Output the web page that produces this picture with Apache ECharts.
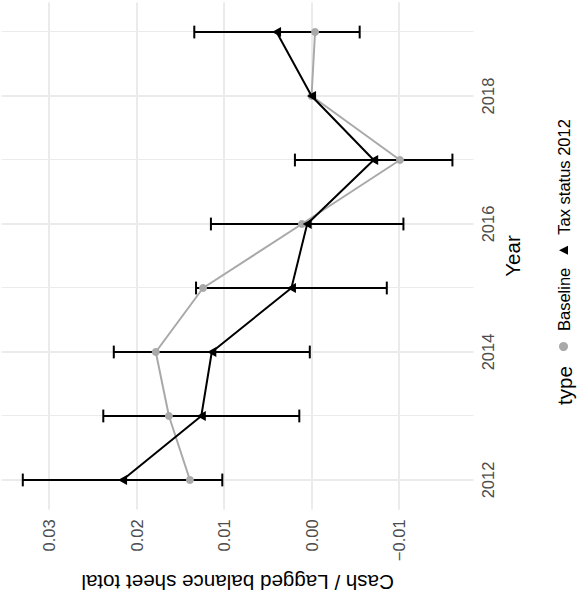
<!DOCTYPE html>
<html>
<head>
<meta charset="utf-8">
<script src="https://cdn.jsdelivr.net/npm/echarts@6/dist/echarts.min.js"></script>
<style>
  html, body { margin: 0; padding: 0; background: #ffffff; overflow: hidden; }
  body { width: 580px; height: 607px; position: relative; }
  /* The plot is laid out upright (607 x 580) and then turned a quarter turn
     counter-clockwise onto the page. */
  #chart {
    position: absolute; left: 0; top: 0;
    width: 607px; height: 580px;
    transform-origin: 0 0;
    transform: translateY(607px) rotate(-90deg);
  }
</style>
</head>
<body>
<div id="chart"></div>
<script>
// Cash / lagged balance sheet total by year, relative to 2018
const years = [2012, 2013, 2014, 2015, 2016, 2017, 2018, 2019];
const baseline = [0.0139, 0.0163, 0.0178, 0.0124, 0.0011, -0.0101, 0.0000, -0.0004];
const taxStatus = [0.0216, 0.0126, 0.0114, 0.0023, 0.0005, -0.0071, 0.0000, 0.0040];
// 95% confidence interval for the tax-status estimates (2018 is the reference year)
const ciLow  = [0.0102, 0.0014, 0.0002, -0.0086, -0.0105, -0.0161, null, -0.0055];
const ciHigh = [0.0330, 0.0238, 0.0226,  0.0132,  0.0115,  0.0019, null,  0.0134];

const yearTicks = [2012, 2014, 2016, 2018];
const yearMinor = [2013, 2015, 2017, 2019];
const valueTicks = [-0.01, 0.00, 0.01, 0.02, 0.03];
const valueMinor = [-0.015, -0.005, 0.005, 0.015, 0.025, 0.035];
const seriesNames = ['Baseline', 'Tax status 2012'];
const legendTitle = 'type';

const FONT = '"Liberation Sans", Arial, Helvetica, sans-serif';
const GRID = '#EBEBEB';
const GREY_PT = '#A9A9A9';
const CAP_HALF = 0.1;   // half width of the error-bar caps, in years

const fmtValue = v => {
  const r = Math.round(v * 100) / 100;
  if (r === 0) return '0.00';
  return (r < 0 ? '\u2212' : '') + Math.abs(r).toFixed(2);
};

const gridLines = [].concat(
  yearTicks.map(v => ({ xAxis: v, lineStyle: { width: 2 } })),
  yearMinor.map(v => ({ xAxis: v, lineStyle: { width: 1 } })),
  valueTicks.map(v => ({ yAxis: v, lineStyle: { width: 2 } })),
  valueMinor.map(v => ({ yAxis: v, lineStyle: { width: 1 } }))
);

const ciData = years
  .map((y, i) => [y, ciLow[i], ciHigh[i]])
  .filter(d => d[1] !== null);

const chart = echarts.init(document.getElementById('chart'), null, { renderer: 'svg' });

chart.setOption({
  animation: false,
  backgroundColor: '#ffffff',
  textStyle: { fontFamily: FONT },
  grid: { left: 97.6, right: 2.6, top: 1.7, bottom: 106.4, containLabel: false },
  xAxis: {
    type: 'value',
    min: 2011.54,
    max: 2019.46,
    name: 'Year',
    nameLocation: 'middle',
    nameGap: 25,
    nameTextStyle: { fontSize: 20.6, color: '#000000', fontFamily: FONT },
    axisLine: { show: false },
    axisTick: { show: false },
    splitLine: { show: false },
    axisLabel: {
      customValues: yearTicks,
      formatter: v => String(v),
      fontSize: 16.5,
      color: '#4D4D4D',
      fontFamily: FONT,
      margin: 6
    }
  },
  yAxis: {
    type: 'value',
    min: -0.01852,
    max: 0.03541,
    name: 'Cash / Lagged balance sheet total',
    nameLocation: 'middle',
    nameGap: 58,
    nameTextStyle: { fontSize: 20.6, color: '#000000', fontFamily: FONT },
    axisLine: { show: false },
    axisTick: { show: false },
    splitLine: { show: false },
    axisLabel: {
      customValues: valueTicks,
      formatter: fmtValue,
      fontSize: 16.5,
      color: '#4D4D4D',
      fontFamily: FONT,
      margin: 10
    }
  },
  legend: {
    data: [
      { name: seriesNames[0], icon: 'circle' },
      { name: seriesNames[1], icon: 'triangle' }
    ],
    orient: 'horizontal',
    left: 256,
    top: 555,
    padding: 0,
    itemWidth: 9,
    itemHeight: 9,
    itemGap: 13,
    selectedMode: false,
    textStyle: { fontSize: 16.5, color: '#000000', fontFamily: FONT, padding: [0, 0, 0, 6] }
  },
  graphic: [{
    type: 'text',
    x: 202,
    y: 564,
    silent: true,
    style: {
      text: legendTitle,
      fontSize: 20.6,
      fontFamily: FONT,
      fill: '#000000',
      textAlign: 'left',
      textVerticalAlign: 'middle'
    }
  }],
  series: [
    {
      // panel grid lines
      name: '__grid',
      type: 'line',
      data: [],
      z: 0,
      silent: true,
      markLine: {
        silent: true,
        z: 0,
        symbol: ['none', 'none'],
        label: { show: false },
        emphasis: { disabled: true },
        lineStyle: { color: GRID, type: 'solid' },
        data: gridLines
      }
    },
    {
      name: 'CI',
      type: 'custom',
      z: 2,
      silent: true,
      data: ciData,
      encode: { x: 0, y: [1, 2] },
      renderItem: (params, api) => {
        const x = api.value(0);
        const lo = api.coord([x, api.value(1)]);
        const hi = api.coord([x, api.value(2)]);
        const hw = api.coord([x + CAP_HALF, api.value(1)])[0] - lo[0];
        const st = { stroke: '#000000', lineWidth: 2, fill: null };
        return {
          type: 'group',
          children: [
            { type: 'line', shape: { x1: lo[0], y1: lo[1], x2: hi[0], y2: hi[1] }, style: st },
            { type: 'line', shape: { x1: lo[0] - hw, y1: lo[1], x2: lo[0] + hw, y2: lo[1] }, style: st },
            { type: 'line', shape: { x1: hi[0] - hw, y1: hi[1], x2: hi[0] + hw, y2: hi[1] }, style: st }
          ]
        };
      }
    },
    {
      name: seriesNames[0],
      type: 'line',
      z: 3,
      data: years.map((y, i) => [y, baseline[i]]),
      symbol: 'circle',
      symbolSize: 8,
      showSymbol: true,
      color: GREY_PT,
      itemStyle: { color: GREY_PT },
      lineStyle: { color: GREY_PT, width: 2 },
      emphasis: { disabled: true }
    },
    {
      name: seriesNames[1],
      type: 'line',
      z: 4,
      data: years.map((y, i) => [y, taxStatus[i]]),
      symbol: 'triangle',
      symbolSize: [10, 9],
      showSymbol: true,
      color: '#000000',
      itemStyle: { color: '#000000' },
      lineStyle: { color: '#000000', width: 2 },
      emphasis: { disabled: true }
    }
  ]
});
</script>
</body>
</html>
